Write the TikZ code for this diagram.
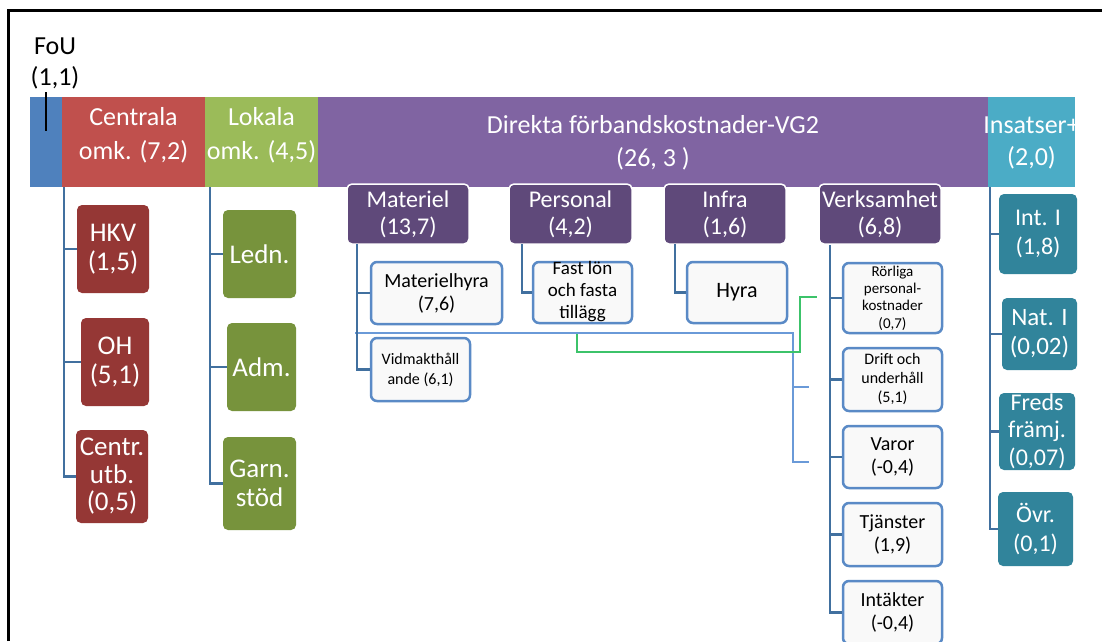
\documentclass[tikz,border=0pt]{standalone}
\usepackage{fontspec}
\setmainfont{Carlito}
\definecolor{cblue}{HTML}{4F81BD}
\definecolor{cred}{HTML}{C0504D}
\definecolor{cgreen}{HTML}{9BBB59}
\definecolor{cpurple}{HTML}{8064A2}
\definecolor{ccyan}{HTML}{4BACC6}
\definecolor{dred}{HTML}{953735}
\definecolor{dgreen}{HTML}{77933C}
\definecolor{dpurple}{HTML}{5F497A}
\definecolor{dcyan}{HTML}{31849B}
\definecolor{conncol}{HTML}{41709F}
\definecolor{wborder}{HTML}{5A8AC6}
\definecolor{wfill}{HTML}{F9F9F9}
\definecolor{strayblue}{HTML}{6A9AD8}
\definecolor{straygreen}{HTML}{3CC36A}
\newcommand{\fs}[2]{\fontsize{#1}{#2}\selectfont}
\tikzset{
  bar/.style={rectangle, inner sep=0pt, text=white, align=center, font=\fs{26}{33}},
  cbox/.style={rectangle, rounded corners=5pt, inner sep=0pt, text=white, align=center, font=\fs{27}{29}},
  pbox/.style={rectangle, rounded corners=5pt, inner sep=0pt, fill=dpurple, draw=white, line width=1.5pt, text=white, align=center, font=\fs{24}{27}},
  wbox/.style={rectangle, rounded corners=6pt, inner sep=0pt, fill=wfill, draw=wborder, line width=2.5pt, text=black, align=center},
  txt/.style={inner sep=0pt, align=center},
  conn/.style={draw=conncol, line width=2.5pt},
  strayb/.style={draw=strayblue, line width=1.3pt},
  strayg/.style={draw=straygreen, line width=1.5pt}
}
\begin{document}
\begin{tikzpicture}[x=1pt,y=-1pt]
\useasboundingbox (0,0) rectangle (1102,641);
\fill[white] (0,0) rectangle (1102,641);
% frame
\draw[line width=3pt] (8.5,641) -- (8.5,10.5) -- (1102,10.5);

% top bars
\node[bar, fill=cblue, minimum width=33, minimum height=90] (fou) at (46,142) {};
\node[bar, fill=cred, minimum width=143, minimum height=90] (cen) at (133.5,142) {};
\node[bar, fill=cgreen, minimum width=113, minimum height=90] (lok) at (261.5,142) {};
\node[bar, fill=cpurple, minimum width=670, minimum height=90] (dir) at (653,142) {};
\node[bar, fill=ccyan, minimum width=87, minimum height=90] (ins) at (1031.5,142) {};
\node[txt, text=white, font=\fs{26}{34}] (cent) at (133.5,135) {Centrala\\omk. (7,2)};
\node[txt, text=white, font=\fs{26}{34}] (lokt) at (261.5,135) {Lokala\\omk. (4,5)};
\node[txt, text=white, font=\fs{26}{33}] (dirt) at (653,143) {Direkta förbandskostnader-VG2\\(26, 3 )};
\node[txt, text=white, font=\fs{26}{32}] (inst) at (1031.5,143) {Insatser+\\(2,0)};

% FoU label
\node[txt, font=\fs{26}{31}] (foul) at (55,63) {FoU\\(1,1)};
\coordinate (tk1) at (46,92);
\coordinate (tk2) at (46,131);
\draw[line width=2pt] (tk1) -- (tk2);

% red children
\node[cbox, fill=dred, minimum width=72, minimum height=88] (hkv) at (113,249) {HKV\\(1,5)};
\node[cbox, fill=dred, minimum width=68, minimum height=88] (oh) at (115,362) {OH\\(5,1)};
\node[cbox, fill=dred, minimum width=72, minimum height=93, font=\fs{27}{27.5}] (cutb) at (112,476.5) {Centr.\\utb.\\(0,5)};
\coordinate (rt) at (64,187);
\draw[conn] (rt) |- (hkv.west);
\draw[conn] (rt) |- (oh.west);
\draw[conn] (rt) |- (cutb.west);

% green children
\node[cbox, fill=dgreen, minimum width=73, minimum height=88] (ledn) at (259.5,254) {Ledn.};
\node[cbox, fill=dgreen, minimum width=69, minimum height=88] (adm) at (261.5,367) {Adm.};
\node[cbox, fill=dgreen, minimum width=73, minimum height=93] (garn) at (259.5,483.5) {Garn.\\stöd};
\coordinate (gt) at (210,187);
\draw[conn] (gt) |- (ledn.west);
\draw[conn] (gt) |- (adm.west);
\draw[conn] (gt) |- (garn.west);

% purple children
\node[pbox, minimum width=122, minimum height=60] (mat) at (408,214) {Materiel\\(13,7)};
\node[pbox, minimum width=123, minimum height=60] (pers) at (570.5,214) {Personal\\(4,2)};
\node[pbox, minimum width=122, minimum height=60] (infra) at (725,214) {Infra\\(1,6)};
\node[pbox, minimum width=122, minimum height=60] (verk) at (880,214) {Verksamhet\\(6,8)};

% stray lines
\coordinate (s1) at (355,333);
\coordinate (s2) at (793,333);
\coordinate (s3) at (793,462);
\coordinate (s4) at (809,462);
\coordinate (s5) at (793,387);
\coordinate (s6) at (809,387);
\draw[strayb] (s1) -- (s2) -- (s3) -- (s4);
\draw[strayb] (s5) -- (s6);
\coordinate (g1) at (577,334);
\coordinate (g2) at (577,352);
\coordinate (g3) at (800,352);
\coordinate (g4) at (800,297);
\coordinate (g5) at (817,297);
\draw[strayg] (g1) -- (g2) -- (g3) -- (g4) -- (g5);

% Materiel children
\node[wbox, minimum width=131, minimum height=62, font=\fs{20}{23}] (mhyra) at (436.5,293) {Materielhyra\\(7,6)};
\node[wbox, minimum width=99, minimum height=63, font=\fs{16}{20}] (vidm) at (420.5,369.5) {Vidmakthåll\\ande (6,1)};
\coordinate (mt) at (357,244);
\draw[conn] (mt) |- (mhyra.west);
\draw[conn] (mt) |- (vidm.west);

% Personal children
\node[wbox, minimum width=99, minimum height=61] (fast) at (582.5,292.5) {};
\node[txt, font=\fs{19}{22}] (fastt) at (582.5,292) {Fast lön\\och fasta\\tillägg};
\coordinate (pt) at (522,244);
\draw[conn] (pt) |- (fast.west);

% Infra children
\node[wbox, minimum width=100, minimum height=61, font=\fs{22}{26}] (hyra) at (737,292.5) {Hyra};
\coordinate (it) at (675,244);
\draw[conn] (it) |- (hyra.west);

% Verksamhet children
\node[wbox, minimum width=99, minimum height=70] (rorl) at (892.5,298) {};
\node[txt, font=\fs{15}{17.3}] (rorlt) at (892.5,298) {Rörliga\\personal-\\kostnader\\(0,7)};
\node[wbox, minimum width=99, minimum height=63] (drift) at (892.5,379.5) {};
\node[txt, font=\fs{16}{19}] (driftt) at (892.5,379.5) {Drift och\\underhåll\\(5,1)};
\node[wbox, minimum width=99, minimum height=62, font=\fs{20}{23}] (varor) at (892.5,457) {Varor\\(-0,4)};
\node[wbox, minimum width=99, minimum height=63, font=\fs{20}{23}] (tjan) at (892.5,534.5) {Tjänster\\(1,9)};
\node[wbox, minimum width=99, minimum height=63, font=\fs{20}{23}] (intak) at (892.5,612.5) {Intäkter\\(-0,4)};
\coordinate (vt) at (830,245);
\draw[conn] (vt) |- (rorl.west);
\draw[conn] (vt) |- (drift.west);
\draw[conn] (vt) |- (varor.west);
\draw[conn] (vt) |- (tjan.west);
\draw[conn] (vt) |- (intak.west);

% Insatser children
\node[cbox, fill=dcyan, minimum width=78, minimum height=80, font=\fs{24}{29}] (int) at (1038,234) {Int. I\\(1,8)};
\node[cbox, fill=dcyan, minimum width=75, minimum height=72, font=\fs{25}{29}] (nat) at (1039.5,334) {Nat. I\\(0,02)};
\node[cbox, fill=dcyan, minimum width=76, minimum height=77] (freds) at (1037,431.5) {};
\node[txt, text=white, font=\fs{24}{27.5}] (fredst) at (1037,431) {Freds\\främj.\\(0,07)};
\node[cbox, fill=dcyan, minimum width=75, minimum height=74, font=\fs{24}{29}] (ovr) at (1035.5,529) {Övr.\\(0,1)};
\coordinate (ct) at (990,187);
\draw[conn] (ct) |- (int.west);
\draw[conn] (ct) |- (nat.west);
\draw[conn] (ct) |- (freds.west);
\draw[conn] (ct) |- (ovr.west);
\end{tikzpicture}
\end{document}
